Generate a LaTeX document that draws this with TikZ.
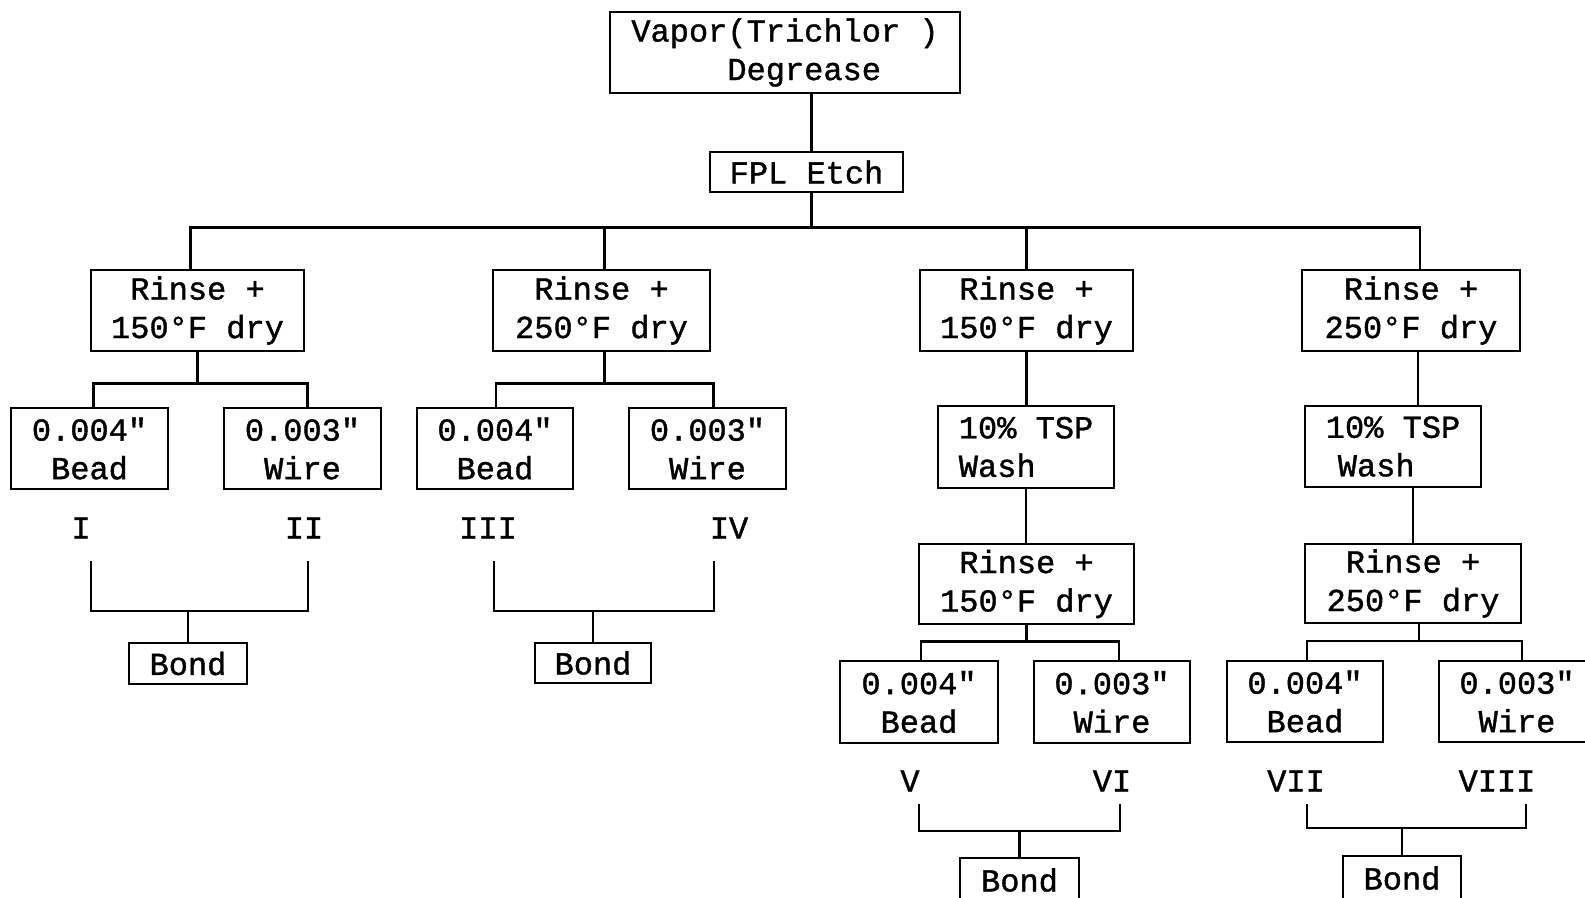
\documentclass[tikz,border=0pt]{standalone}
\usepackage{fontspec}
\newfontfamily\twfam{Liberation Mono}[FakeBold=1.2]
\newcommand\twfont{\twfam\fontsize{32}{38.5}\selectfont}
\tikzset{
  box/.style={draw, line width=2.6pt, inner sep=0pt, align=center, font=\twfont},
  sz/.style 2 args={minimum width=#1pt, minimum height=#2pt},
  lbl/.style={font=\twfont, inner sep=0pt},
  conn/.style={line width=2.6pt}
}
\begin{document}
\begin{tikzpicture}[x=1pt,y=-1pt]
\useasboundingbox (0,0) rectangle (1585,897);
% top
\node[box, sz={350}{81}, align=left] (vapor) at (785,52.5) {Vapor(Trichlor )\\\phantom{XXXXX}Degrease};
\node[box, sz={193}{40}] (fpl) at (806.5,172) {FPL Etch};
% rinse row
\node[box, sz={213}{81}] (r1) at (197.5,310.5) {Rinse +\\150°F dry};
\node[box, sz={217}{81}] (r2) at (601.5,310.5) {Rinse +\\250°F dry};
\node[box, sz={213}{81}] (r3) at (1026.5,310.5) {Rinse +\\150°F dry};
\node[box, sz={218}{81}] (r4) at (1411,310.5) {Rinse +\\250°F dry};
% first bead/wire row
\node[box, sz={157}{81}] (b1) at (89.5,448.5) {0.004"\\Bead};
\node[box, sz={157}{81}] (w1) at (302.5,448.5) {0.003"\\Wire};
\node[box, sz={156}{81}] (b2) at (495,448.5) {0.004"\\Bead};
\node[box, sz={157}{81}] (w2) at (707.5,448.5) {0.003"\\Wire};
% TSP wash
\node[box, sz={176}{82}, align=left] (tsp3) at (1026,447) {10\% TSP\\Wash};
\node[box, sz={176}{81}, align=left] (tsp4) at (1393,446.5) {10\% TSP\\\hspace*{12pt}Wash};
% second rinse
\node[box, sz={215}{80}] (rr3) at (1026.5,584) {Rinse +\\150°F dry};
\node[box, sz={216}{79}] (rr4) at (1413,583.5) {Rinse +\\250°F dry};
% second bead/wire row
\node[box, sz={158}{82}] (b5) at (919,702) {0.004"\\Bead};
\node[box, sz={156}{82}] (w6) at (1112,702) {0.003"\\Wire};
\node[box, sz={156}{81}] (b7) at (1305,701.5) {0.004"\\Bead};
\node[box, sz={156}{81}] (w8) at (1517,701.5) {0.003"\\Wire};
% labels
\node[lbl] (L1) at (81,528) {I};
\node[lbl] (L2) at (304,528) {II};
\node[lbl] (L3) at (488,528) {III};
\node[lbl] (L4) at (729,528) {IV};
\node[lbl] (L5) at (910,781) {V};
\node[lbl] (L6) at (1112,781) {VI};
\node[lbl] (L7) at (1296,781) {VII};
\node[lbl] (L8) at (1497,781) {VIII};
% bonds
\node[box, sz={118}{41}] (bond1) at (188,663.5) {Bond};
\node[box, sz={116}{40}] (bond2) at (593,663) {Bond};
\node[box, sz={119}{44}] (bond5) at (1019.5,880) {Bond};
\node[box, sz={118}{44}] (bond7) at (1402,878) {Bond};
% connectors
\draw[conn] ([xshift=5pt]fpl.north) -- ([xshift=5pt]fpl.north |- vapor.south);
\draw[conn] ([xshift=5pt]fpl.south) -- ++(0,34) coordinate (bus);
\draw[conn] ([xshift=-7pt]r1.north) |- (bus) -| ([xshift=9pt]r4.north);
\draw[conn] ([xshift=3pt]r2.north) |- (bus);
\draw[conn] (r3.north) |- (bus);
\draw[conn] (r1.south) -- ++(0,31) coordinate (f1);
\draw[conn] ([xshift=4pt]b1.north) |- (f1) -| ([xshift=5pt]w1.north);
\draw[conn] ([xshift=3pt]r2.south) -- ++(0,31) coordinate (f2);
\draw[conn] ([xshift=1pt]b2.north) |- (f2) -| ([xshift=6pt]w2.north);
\draw[conn] (r3.south) -- (r3.south |- tsp3.north);
\draw[conn] (tsp3.south) -- (tsp3.south |- rr3.north);
\draw[conn] ([xshift=7pt]r4.south) -- ([xshift=7pt]r4.south |- tsp4.north);
\draw[conn] (rr4.north) -- (rr4.north |- tsp4.south);
\draw[conn] (rr3.south) -- ++(0,16) coordinate (f3);
\draw[conn] ([xshift=2pt]b5.north) |- (f3) -| ([xshift=7pt]w6.north);
\draw[conn] ([xshift=6pt]rr4.south) -- ++(0,16.5) coordinate (f4);
\draw[conn] ([xshift=2pt]b7.north) |- (f4) -| ([xshift=5pt]w8.north);
% brackets
\coordinate (k1a) at (91,561); \coordinate (k1b) at (308,561);
\draw[conn] (k1a) -- ++(0,50) -| (k1b);
\draw[conn] (bond1.north) -- ++(0,-32);
\coordinate (k2a) at (494,561); \coordinate (k2b) at (714,561);
\draw[conn] (k2a) -- ++(0,50) -| (k2b);
\draw[conn] (bond2.north) -- ++(0,-32);
\coordinate (k5a) at (919,804); \coordinate (k5b) at (1120,804);
\draw[conn] (k5a) -- ++(0,27) -| (k5b);
\draw[conn] (bond5.north) -- ++(0,-27);
\coordinate (k7a) at (1307,804); \coordinate (k7b) at (1526,804);
\draw[conn] (k7a) -- ++(0,24) -| (k7b);
\draw[conn] (bond7.north) -- ++(0,-28);
\end{tikzpicture}
\end{document}
